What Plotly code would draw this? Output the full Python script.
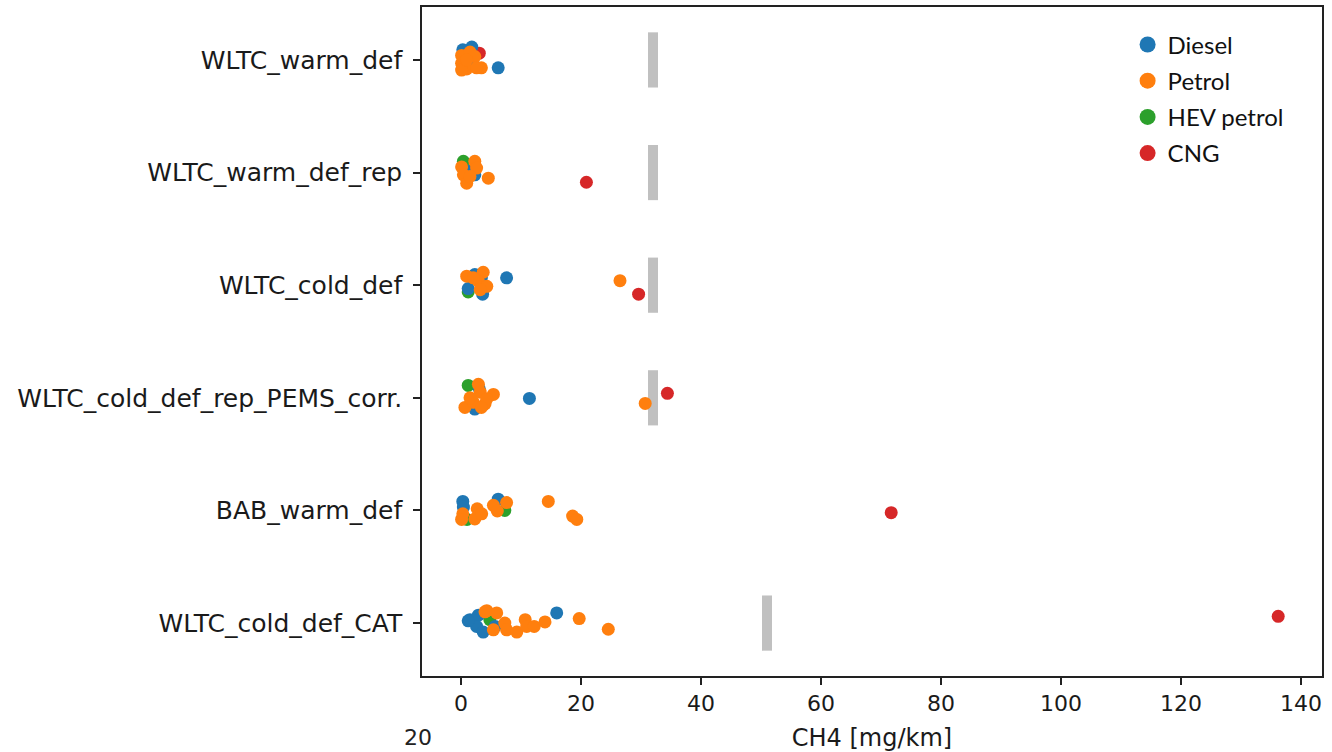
import plotly.graph_objects as go

categories = ["WLTC_warm_def", "WLTC_warm_def_rep", "WLTC_cold_def",
              "WLTC_cold_def_rep_PEMS_corr.", "BAB_warm_def", "WLTC_cold_def_CAT"]
x_ticks = [0, 20, 40, 60, 80, 100, 120, 140]
limits = [32, 32, 32, 32, None, 51]

# each series: category index, CH4 value [mg/km], jitter
diesel_cat = [0, 0, 0, 0, 1, 1, 2, 2, 2, 2, 2, 3, 3, 3, 4, 4, 4, 5, 5, 5, 5, 5, 5, 5]
diesel_val = [6.2, 1.8, 0.3, 2.0, 2.3, 1.8, 7.6, 1.2, 3.6, 2.3, 3.4, 11.4, 3.05, 2.3,
              0.3, 0.4, 6.2, 15.95, 1.5, 2.9, 2.6, 3.7, 5.7, 1.2]
diesel_jit = [0.07, -0.115, -0.09, 0.05, 0.02, -0.02, -0.065, 0.03, 0.08, -0.095, -0.065,
              0.005, -0.08, 0.10, -0.08, -0.03, -0.10, -0.09, -0.03, -0.07, 0.03, 0.08, 0.03, -0.02]

petrol_cat = [0] * 9 + [1] * 7 + [2] * 7 + [3] * 10 + [4] * 11 + [5] * 13
petrol_val = [0.1, 0.1, 1.5, 2.3, 3.4, 0.95, 0.1, 2.6, 0.95,
              4.55, 2.3, 2.6, 0.1, 0.4, 0.95, 1.5,
              26.5, 0.95, 3.7, 2.9, 4.3, 3.2, 2.05,
              30.7, 2.9, 5.4, 3.2, 0.65, 2.05, 4.0, 1.5, 4.3, 3.4,
              14.55, 18.6, 19.3, 0.3, 0.1, 2.7, 2.3, 3.45, 7.6, 5.4, 6.05,
              19.7, 24.55, 4.3, 5.95, 7.3, 7.6, 9.3, 10.7, 10.95, 12.2, 14.0, 5.4, 4.0]
petrol_jit = [-0.04, 0.03, -0.07, -0.03, 0.07, 0.08, 0.09, 0.07, 0.0,
              0.05, -0.10, -0.04, -0.05, 0.02, 0.095, 0.035,
              -0.04, -0.08, -0.115, -0.035, 0.01, 0.04, -0.065,
              0.05, -0.12, -0.03, -0.05, 0.085, 0.04, 0.055, 0.0, 0.01, 0.085,
              -0.08, 0.05, 0.08, 0.03, 0.08, -0.015, 0.075, 0.03, -0.07, -0.045, 0.005,
              -0.04, 0.055, -0.11, -0.09, 0.0, 0.06, 0.08, -0.03, 0.03, 0.03, -0.01, 0.06, -0.1]

hev_cat = [1, 2, 3, 4, 4, 5]
hev_val = [0.4, 1.2, 1.2, 1.0, 7.3, 4.8]
hev_jit = [-0.10, 0.06, -0.11, 0.08, 0.0, -0.03]

cng_cat = [0, 1, 2, 3, 4, 5]
cng_val = [3.05, 20.9, 29.6, 34.4, 71.7, 136.2]
cng_jit = [-0.06, 0.086, 0.08, -0.04, 0.02, -0.06]

series = [
    ("Diesel", "#1f77b4", diesel_cat, diesel_val, diesel_jit, 1),
    ("Petrol", "#ff7f0e", petrol_cat, petrol_val, petrol_jit, 2),
    ("HEV petrol", "#2ca02c", hev_cat, hev_val, hev_jit, 3),
    ("CNG", "#d62728", cng_cat, cng_val, cng_jit, 4),
]

fig = go.Figure()

# limit bars
lx, ly = [], []
for i, lim in enumerate(limits):
    if lim is None:
        continue
    lx += [lim, lim, None]
    ly += [i - 0.245, i + 0.245, None]
fig.add_trace(go.Scatter(x=lx, y=ly, mode="lines", line=dict(color="#c0c0c0", width=10),
                         showlegend=False, hoverinfo="skip"))

draw_order = [2, 3, 0, 1]
for k in draw_order:
    name, col, cats, vals, jit, rank = series[k]
    fig.add_trace(go.Scatter(
        x=vals, y=[c + j for c, j in zip(cats, jit)], mode="markers",
        marker=dict(color=col, size=13, line=dict(width=0)),
        name=name, showlegend=False))
for name, col, cats, vals, jit, rank in series:
    fig.add_trace(go.Scatter(
        x=[None], y=[None], mode="markers",
        marker=dict(color=col, size=20), name=name, legendrank=rank,
        legendgroup=name, showlegend=True))

fig.update_layout(
    width=1332, height=752,
    margin=dict(l=422, r=10, t=5, b=76),
    plot_bgcolor="white", paper_bgcolor="white",
    font=dict(family="DejaVu Sans", color="#1a1a1a"),
    showlegend=True,
    legend=dict(x=0.784, y=0.977, xanchor="left", yanchor="top",
                font=dict(family="Lato", size=24, color="#111"),
                bgcolor="rgba(255,255,255,0)", tracegroupgap=2, itemsizing="trace"),
    xaxis=dict(range=[-6.5, 143.5], tickvals=x_ticks, ticks="outside", ticklen=7,
               tickwidth=1.5, tickcolor="#222", showline=True, linecolor="#222",
               linewidth=1.5, mirror=True, showgrid=False, zeroline=False,
               tickfont=dict(size=22, family="DejaVu Sans"),
               title=dict(text="CH4 [mg/km]", font=dict(size=24, family="DejaVu Sans"), standoff=14)),
    yaxis=dict(range=[5.47, -0.47], tickvals=list(range(len(categories))), ticktext=categories,
               ticks="outside", ticklen=7, tickwidth=1.5, tickcolor="#222",
               showline=True, linecolor="#222", linewidth=1.5, mirror=True,
               showgrid=False, zeroline=False, ticklabelstandoff=6,
               tickfont=dict(size=25, family="DejaVu Sans")),
    annotations=[dict(text="20", x=-0.0044, y=-0.1133, xref="paper", yref="paper",
                      xanchor="center", yanchor="bottom", showarrow=False,
                      font=dict(size=22, family="DejaVu Sans", color="#222"))],
)

fig.write_html("out.html")
